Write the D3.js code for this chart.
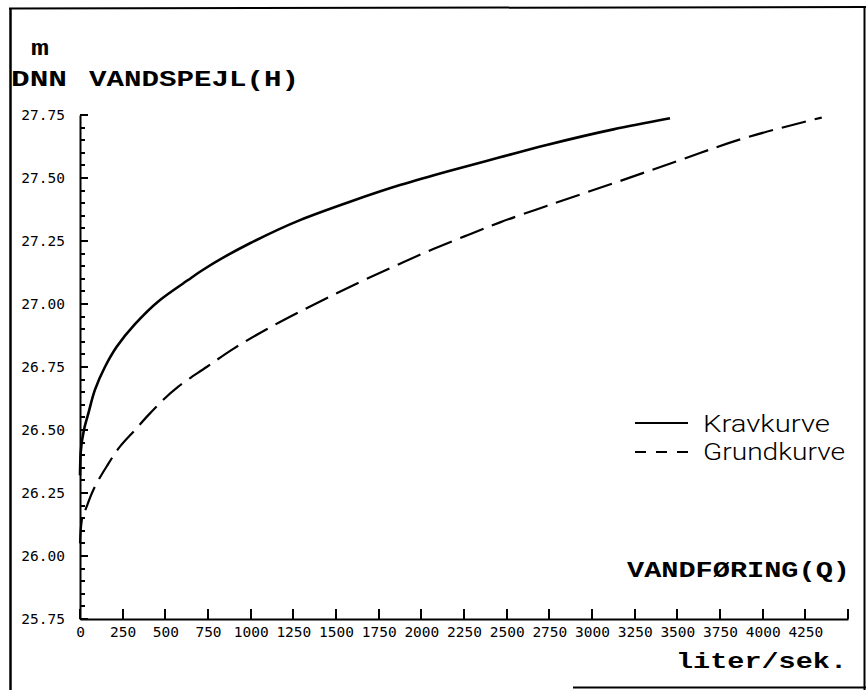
<!DOCTYPE html>
<html>
<head>
<meta charset="utf-8">
<script src="https://cdn.jsdelivr.net/npm/d3@7"></script>
<style>
  body { margin: 0; background: #fff; }
  svg { display: block; }
</style>
</head>
<body>
<div id="chart"></div>
<script>
// data (Q liter/sek, H m DNN)
var kravQ = [0, 4, 23, 49, 88, 146, 215, 322, 469, 633, 703, 996, 1289, 1582, 1875, 2168, 2461, 2734, 3125, 3457];
var kravH = [26.32, 26.41, 26.50, 26.566, 26.66, 26.75, 26.83, 26.92, 27.016, 27.095, 27.128, 27.241, 27.333, 27.406, 27.472, 27.529, 27.582, 27.631, 27.693, 27.737];

var grundQ = [0, 10, 39, 78, 156, 234, 322, 410, 576, 742, 898, 1094, 1289, 1484, 1680, 1875, 2070, 2266, 2461, 2734, 3125, 3516, 3906, 4346];
var grundH = [26.05, 26.14, 26.196, 26.262, 26.355, 26.434, 26.50, 26.566, 26.672, 26.75, 26.822, 26.90, 26.97, 27.036, 27.10, 27.16, 27.218, 27.272, 27.324, 27.389, 27.479, 27.571, 27.661, 27.74];

var xTicks = d3.range(0, 4501, 250);
var yTicks = [25.75, 26.00, 26.25, 26.50, 26.75, 27.00, 27.25, 27.50, 27.75];
var yMinor = d3.range(25.75, 27.7501, 0.05);

var seriesNames = ["Kravkurve", "Grundkurve"];

var svgWidth = 866;
var svgHeight = 690;

var svg = d3.select("#chart")
  .append("svg")
  .attr("width", svgWidth)
  .attr("height", svgHeight);

// frame of the scanned sheet
var frame = svg.append("g").attr("stroke", "#000").attr("fill", "none");
frame.append("line").attr("x1", 10.5).attr("y1", 8).attr("x2", 10.5).attr("y2", 690).attr("stroke-width", 2.5);
frame.append("line").attr("x1", 9).attr("y1", 8.5).attr("x2", 866).attr("y2", 7).attr("stroke-width", 2);
frame.append("line").attr("x1", 864.5).attr("y1", 6).attr("x2", 864.5).attr("y2", 690).attr("stroke-width", 2);
frame.append("line").attr("x1", 573).attr("y1", 687.5).attr("x2", 866).attr("y2", 687.5).attr("stroke-width", 2);

var x = d3.scaleLinear().domain([0, 4500]).range([80, 848]);
var y = d3.scaleLinear().domain([25.75, 27.75]).range([619, 115]);

// axes: labels + axis line from d3, tick marks drawn inward below
var xAxis = d3.axisBottom(x)
  .tickValues(xTicks)
  .tickSizeInner(0)
  .tickSizeOuter(0)
  .tickPadding(8)
  .tickFormat(function(d) { return d === 4500 ? "" : d; });

svg.append("g")
  .attr("transform", "translate(0," + y(25.75) + ")")
  .call(xAxis);

svg.append("g")
  .attr("transform", "translate(" + x(0) + ",0)")
  .call(d3.axisLeft(y)
    .tickValues(yTicks)
    .tickSizeInner(0)
    .tickSizeOuter(0)
    .tickPadding(15)
    .tickFormat(d3.format(".2f")));

svg.selectAll(".domain").attr("stroke", "#000").attr("stroke-width", 2);
svg.selectAll(".tick text")
  .attr("fill", "#000")
  .style("font-family", "'DejaVu Sans Mono', monospace")
  .style("font-size", "14.5px");

// inward tick marks
svg.selectAll("path.xt")
  .data(xTicks)
  .enter()
  .append("path")
  .attr("class", "xt")
  .attr("fill", "none")
  .attr("stroke", "#000")
  .attr("stroke-width", 2)
  .attr("d", function(d) {
    var px = Math.round(x(d));
    return "M" + px + "," + y(25.75) + "V" + (y(25.75) - 10);
  });

svg.selectAll("path.yt")
  .data(yMinor)
  .enter()
  .append("path")
  .attr("class", "yt")
  .attr("fill", "none")
  .attr("stroke", "#000")
  .attr("stroke-width", 2)
  .attr("d", function(d) {
    var major = Math.abs(d * 4 - Math.round(d * 4)) < 1e-6;
    var py = Math.round(y(d));
    return "M" + x(0) + "," + py + "H" + (x(0) + (major ? 8 : 5));
  });

// curves
var line = d3.line()
  .x(function(d) { return x(d.q); })
  .y(function(d) { return y(d.h); })
  .curve(d3.curveMonotoneY);

var krav = kravQ.map(function(q, i) { return { q: q, h: kravH[i] }; });
var grund = grundQ.map(function(q, i) { return { q: q, h: grundH[i] }; });

svg.append("path")
  .datum(krav)
  .attr("d", line)
  .attr("fill", "none")
  .attr("stroke", "#000")
  .attr("stroke-width", 2.6);

svg.append("path")
  .datum(grund)
  .attr("d", line)
  .attr("fill", "none")
  .attr("stroke", "#000")
  .attr("stroke-width", 2.2)
  .attr("stroke-dasharray", "25,9");

// legend
svg.append("line")
  .attr("x1", 635).attr("x2", 688).attr("y1", 423).attr("y2", 423)
  .attr("stroke", "#000").attr("stroke-width", 2);
svg.append("line")
  .attr("x1", 635).attr("x2", 688).attr("y1", 452).attr("y2", 452)
  .attr("stroke", "#000").attr("stroke-width", 2)
  .attr("stroke-dasharray", "11,10");

var legendText = svg.append("g")
  .style("font-family", "Roboto, 'Liberation Sans', sans-serif")
  .style("font-weight", "300")
  .style("font-size", "24px")
  .attr("fill", "#000");
legendText.append("text").attr("x", 703).attr("y", 432)
  .attr("textLength", 127).attr("lengthAdjust", "spacingAndGlyphs")
  .text(seriesNames[0]);
legendText.append("text").attr("x", 703).attr("y", 460)
  .attr("textLength", 142).attr("lengthAdjust", "spacingAndGlyphs")
  .text(seriesNames[1]);

// axis titles in the bold typewriter face
var titles = svg.append("g")
  .style("font-family", "'Liberation Mono', 'Courier New', monospace")
  .style("font-weight", "bold")
  .style("font-size", "22px")
  .attr("fill", "#000");

function title(txt, x0, y0, len) {
  titles.append("text")
    .attr("x", x0).attr("y", y0)
    .attr("textLength", len)
    .attr("lengthAdjust", "spacingAndGlyphs")
    .text(txt);
}

title("m", 31, 55, 18);
title("DNN", 11, 86, 56);
title("VANDSPEJL(H)", 89, 86, 210);
title("VANDFØRING(Q)", 627, 577, 223);
title("liter/sek.", 676, 668, 171);
</script>
</body>
</html>
